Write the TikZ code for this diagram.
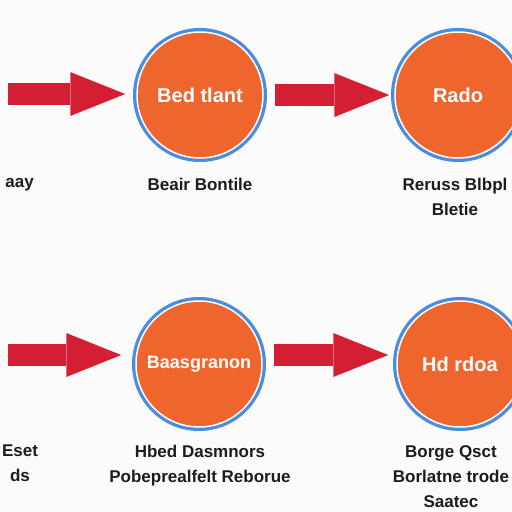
\documentclass[tikz,border=0pt]{standalone}
\usepackage{fontspec}
\setmainfont{Liberation Sans}
\usetikzlibrary{arrows.meta}

\definecolor{stepfill}{RGB}{238,102,46}
\definecolor{ringblue}{RGB}{74,140,222}
\definecolor{arrowred}{RGB}{212,30,52}
\definecolor{labelink}{RGB}{28,28,28}
\definecolor{paper}{RGB}{251,251,251}

\begin{document}
\begin{tikzpicture}[x=1pt, y=-1pt,
    stage/.style={circle, minimum size=126pt, inner sep=0pt,
        fill=stepfill, draw=white, line width=1.5pt,
        preaction={draw=ringblue, line width=8pt},
        text=white, font=\fontsize{20}{22}\selectfont\bfseries},
    caption/.style={align=center, inner sep=0pt, text=labelink,
        font=\fontsize{17}{25}\selectfont\bfseries},
    flow/.style={draw=arrowred, line width=22pt,
        -{Triangle[length=55pt, width=44pt, line width=0pt]}}]
    \fill[paper] (0,0) rectangle (512,512);
    \useasboundingbox (0,0) rectangle (512,512);
    % steps
    \node[stage] (bed) at (200, 95) {Bed tlant};
    \node[stage] (rado) at (458, 95) {Rado};
    \node[stage, font=\fontsize{18}{20}\selectfont\bfseries] (baas) at (199, 364) {Baasgranon};
    \node[stage] (hrd) at (460, 364) {Hd rdoa};
    % captions
    \node[caption, anchor=north east] (aay) at (34, 178) {aay};
    \node[caption, anchor=north] (beair) at (200, 178) {Beair Bontile};
    \node[caption, anchor=north] (reruss) at (455, 178) {Reruss Blbpl\\Bletie};
    \node[caption, anchor=north] (eset) at (20, 445) {Eset\\ds};
    \node[caption, anchor=north] (hbed) at (200, 445) {Hbed Dasmnors\\Pobeprealfelt Reborue};
    \node[caption, anchor=north] (borge) at (451, 445) {Borge Qsct\\Borlatne trode\\Saatec};
    % arrows
    \coordinate (in1) at (8, 94);
    \coordinate (in2) at (8, 355);
    \draw[flow, shorten >=11pt] (in1) to (in1 -| bed.west);
    \draw[flow, shorten <=11pt, shorten >=5pt] (bed.east) to (rado.west);
    \draw[flow, shorten >=14pt] (in2) to (in2 -| baas.west);
    \draw[flow, shorten <=11pt, shorten >=8pt] (in2 -| baas.east) to (in2 -| hrd.west);
\end{tikzpicture}
\end{document}
